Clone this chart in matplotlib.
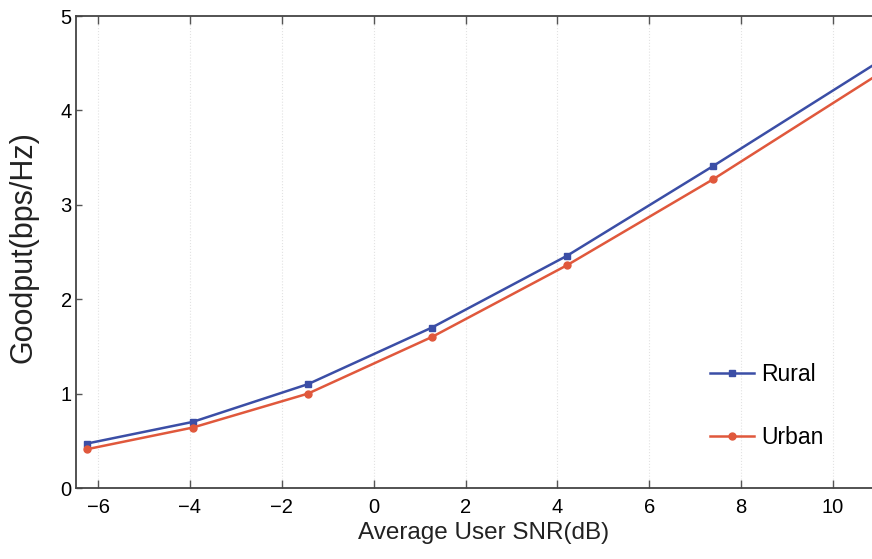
import matplotlib
matplotlib.use("Agg")
import matplotlib.pyplot as plt

# data
snr = [-6.25, -3.94, -1.43, 1.27, 4.21, 7.39, 11.4]
rural = [0.47, 0.70, 1.10, 1.70, 2.46, 3.41, 4.64]
urban = [0.41, 0.64, 1.00, 1.60, 2.36, 3.27, 4.51]
x_ticks = [-6, -4, -2, 0, 2, 4, 6, 8, 10]
y_ticks = [0, 1, 2, 3, 4, 5]

plt.rcParams['font.family'] = ['Liberation Sans', 'DejaVu Sans']

fig = plt.figure(figsize=(8.72, 5.59), dpi=100)
fig.patch.set_facecolor('white')
ax = fig.add_axes([76 / 872, 1 - 488 / 559, 1 - 76 / 872, (488 - 16) / 559])
ax.set_facecolor('white')

ax.plot(snr, rural, color='#3b4ea6', lw=1.8, marker='s', markersize=5,
        label='Rural', zorder=3)
ax.plot(snr, urban, color='#e0583c', lw=1.8, marker='o', markersize=5,
        label='Urban', zorder=3)

ax.set_xlim(-6.48, 10.85)
ax.set_ylim(0, 5)
ax.set_xticks(x_ticks)
ax.set_yticks(y_ticks)
ax.grid(axis='x', color='#e2e2e2', linestyle=':', linewidth=0.8)

for side in ['left', 'bottom', 'top']:
    ax.spines[side].set_color('#444444')
    ax.spines[side].set_linewidth(1.3)
ax.spines['right'].set_visible(False)

ax.tick_params(axis='x', direction='in', top=True, length=6, width=1,
               color='#555555', labelsize=14.5, pad=7)
ax.tick_params(axis='y', direction='in', length=4, width=1,
               color='#555555', labelsize=14.5, pad=3)

fig.text(484 / 872, 1 - 533 / 559, 'Average User SNR(dB)', fontsize=17.5,
         ha='center', va='center', color='#222222')
fig.text(24 / 872, 1 - 247 / 559, 'Goodput(bps/Hz)', fontsize=22,
         rotation=90, ha='center', va='center', color='#222222')

ax.legend(loc='center left', bbox_to_anchor=(0.797, 0.174), frameon=False,
          fontsize=16.5, handlelength=1.9, handletextpad=0.3,
          labelspacing=1.75, borderpad=0, borderaxespad=0)

fig.savefig('out.png', dpi=100, facecolor='white')
